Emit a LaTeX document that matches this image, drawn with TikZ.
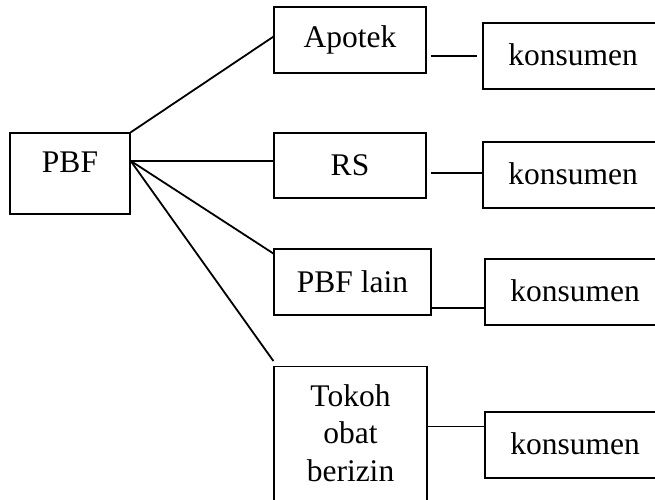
\documentclass[tikz,border=0pt]{standalone}
\usepackage{fontspec}
\setmainfont{Liberation Serif}
\usetikzlibrary{calc}
\tikzset{
  box/.style={draw=black, line width=1.2pt, rectangle, inner sep=0pt, align=center,
    font=\fontsize{31.5}{37.5}\selectfont},
  konbox/.style={box, minimum width=180pt, minimum height=66pt, text height=18pt, text depth=0pt},
  txt/.style={inner sep=0pt, align=center, font=\fontsize{31.5}{37.5}\selectfont},
  conn/.style={line width=1.8pt, line cap=butt},
}
\begin{document}
\begin{tikzpicture}[x=1pt, y=-1pt]
\useasboundingbox (0,0) rectangle (655,499);
\clip (0,0) rectangle (655,499);
% main boxes
\node[box, minimum width=120pt, minimum height=81pt, text depth=23pt] (pbf) at (70,173.5) {PBF};
\node[box, minimum width=152pt, minimum height=66pt] (apotek) at (350,40) {Apotek};
\node[box, minimum width=152pt, minimum height=65pt] (rs) at (350,165.5) {RS};
\node[box, minimum width=157pt, minimum height=66pt] (pbfl) at (352.5,282) {PBF lain};
\node[box, minimum width=153pt, minimum height=200pt, anchor=north] (tokoh) at (350.5,366) {};
\node[txt, anchor=north] (tokoht) at (350.5,384) {Tokoh\\obat\\berizin};
% consumer boxes
\node[konbox] (k1) at (573,56) {konsumen};
\node[konbox] (k2) at (573,175) {konsumen};
\node[konbox] (k3) at (575,292) {konsumen};
\node[konbox] (k4) at (575,445) {konsumen};
% connectors from PBF
\coordinate (hub) at ($(pbf.north east)!0.3457!(pbf.south east)$);
\draw[conn] (pbf.north east) -- ($(apotek.north west)!0.45!(apotek.south west)$);
\draw[conn] (hub) -- (hub -| rs.west);
\draw[conn] (hub) -- ($(pbfl.north west)!0.076!(pbfl.south west)$);
\draw[conn] (hub) -- ($(tokoh.north west)+(0,5pt)$);
% connectors to consumers
\draw[conn, shorten <=4pt, shorten >=5pt] (k1.west -| apotek.east) -- (k1.west);
\coordinate (c2) at ($(k2.north west)!0.47!(k2.south west)$);
\draw[conn, shorten <=4pt] (c2 -| rs.east) -- (c2);
\coordinate (c3) at ($(pbfl.south east)+(0,8pt)$);
\draw[conn] (c3) -- (c3 -| k3.west);
\coordinate (c4) at ($(k4.north west)+(0,-15pt)$);
\draw[conn] (c4 -| tokoh.east) -- (c4);
\end{tikzpicture}
\end{document}
